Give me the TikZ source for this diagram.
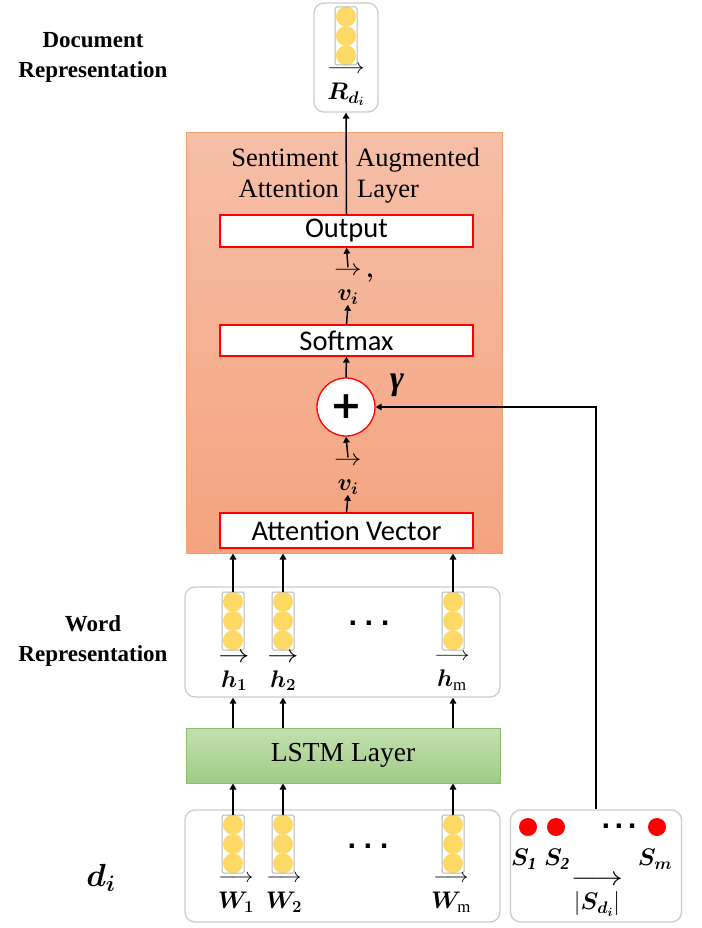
\RequirePackage{fix-cm}
\documentclass[tikz,border=0pt]{standalone}
\usepackage{graphicx}
\usepackage{amsmath}
\usepackage{bm}
\usepackage{fontspec}
\setmainfont{Liberation Serif}
\newfontfamily\calibri{Carlito}
\newfontfamily\dejavu{DejaVu Sans}
\usetikzlibrary{arrows.meta}
\definecolor{redb}{RGB}{255,0,0}
\definecolor{yel}{RGB}{255,217,102}
\definecolor{grayb}{RGB}{205,205,205}
\definecolor{orT}{RGB}{246,191,168}
\definecolor{orB}{RGB}{244,163,126}
\definecolor{orD}{RGB}{244,160,110}
\definecolor{grT}{RGB}{194,224,175}
\definecolor{grB}{RGB}{160,204,134}
\definecolor{grD}{RGB}{140,190,110}
\tikzset{
 arr/.style={line width=1.5pt,-{Triangle[length=6pt,width=6.5pt]}},
 rbox/.style={draw=redb,line width=1.3pt,fill=white,minimum width=253pt,inner sep=0pt,font=\calibri\fontsize{28.5}{30}\selectfont},
 gbox/.style={draw=grayb,line width=1.3pt,rounded corners=10pt,fill=white,inner sep=0pt},
 vecbox/.style={draw=grayb!90!black,line width=1pt,minimum width=22pt,inner sep=0pt,rounded corners=1.5pt},
 lab/.style={font=\fontsize{24}{24}\selectfont,inner sep=0pt,align=center},
 sidelab/.style={font=\bfseries\fontsize{23}{30}\selectfont,inner sep=0pt,align=center},
 ttl/.style={font=\fontsize{26.5}{28}\selectfont,inner sep=0pt},
 dotsty/.style={font=\dejavu\bfseries\fontsize{24}{24}\selectfont,inner sep=0pt},
}
\newcommand\vstack[4]{%
  \foreach \k in {-1,0,1} \fill[yel] (#2,#3+\k*#4/3) circle (10pt);
  \node[vecbox,minimum height=#4pt] (#1) at (#2,#3) {};
}
% arrows: font size, horizontal stretch
\newcommand\sarr[2]{\scalebox{#2}[1]{\fontsize{#1}{#1}\selectfont$\rightarrow$}}
\newcommand\larr[2]{\scalebox{#2}[1]{\fontsize{#1}{#1}\selectfont$\longrightarrow$}}
\begin{document}
\begin{tikzpicture}[x=1pt,y=-1pt]
\useasboundingbox (0,0) rectangle (701,928);
% left labels
\node[sidelab] (doclab) at (93,57) {Document\\Representation};
\node[sidelab] (wordlab) at (93,641) {Word\\Representation};
\node[font=\fontsize{32}{34}\selectfont,inner sep=0pt] (dlab) at (101,878) {$\bm{d}_{\bm{i}}$};
% orange layer
\node[draw=orD,line width=1pt,top color=orT,bottom color=orB,minimum width=316pt,minimum height=420pt,inner sep=0pt] (sal) at (344,343) {};
\node[ttl,anchor=base east] (t1) at (339,167) {Sentiment};
\node[ttl,anchor=base west] (t2) at (356,167) {Augmented};
\node[ttl,anchor=base east] (t3) at (339,197) {Attention};
\node[ttl,anchor=base west] (t4) at (357,197) {Layer};
\node[rbox,minimum height=32pt] (out) at (346.5,231) {Output};
\node[rbox,minimum height=31pt] (soft) at (346.5,340.5) {Softmax};
\node[rbox,minimum height=35pt] (att) at (346.5,530.5) {Attention Vector};
\node[circle,draw=redb,line width=1.3pt,fill=white,minimum size=58pt,inner sep=0pt,font=\dejavu\bfseries\fontsize{38}{38}\selectfont] (plus) at (346,407) {+};
\node[inner sep=0pt,font=\bfseries\itshape\fontsize{34}{34}\selectfont] (gam) at (397,385) {γ};
\node[lab] (vp) at (348,286) {\sarr{23}{1.2}\\[1pt]$\bm{v}_{\bm{i}}$};
\node[lab] (comma) at (370,278) {$\bm{,}$};
\node[lab] (vi) at (348,476) {\sarr{23}{1.2}\\[1pt]$\bm{v}_{\bm{i}}$};
% document representation
\node[gbox,minimum width=64pt,minimum height=109pt] (doc) at (346,57.5) {};
\vstack{rv}{346}{36}{58}
\node[lab] (rl) at (346,86) {\larr{21}{1.1}\\[2pt]$\bm{R}_{\bm{d}_{\bm{i}}}$};
% word representation
\node[gbox,minimum width=315pt,minimum height=110pt] (wbox) at (342.5,642) {};
\vstack{wv1}{233}{621}{58}
\vstack{wv2}{283}{621}{58}
\vstack{wvm}{453}{621}{58}
\node[lab] (h1) at (234,672) {\sarr{25}{1.25}\\[1pt]$\bm{h}_{\bm{1}}$};
\node[lab] (h2) at (283,672) {\sarr{25}{1.25}\\[1pt]$\bm{h}_{\bm{2}}$};
\node[lab] (hm) at (452,672) {\larr{19}{1.15}\\[2pt]$\bm{h}_{\mathrm{m}}$};
\node[dotsty] (wdots) at (369,623) {.\hspace{7pt}.\hspace{7pt}.};
% LSTM
\node[draw=grD,line width=1pt,top color=grT,bottom color=grB,minimum width=314pt,minimum height=55pt,inner sep=0pt,font=\fontsize{27.5}{30}\selectfont] (lstm) at (343,755.5) {LSTM Layer};
% input
\node[gbox,minimum width=315pt,minimum height=112pt] (ibox) at (342.5,866) {};
\vstack{iv1}{233}{844}{58}
\vstack{iv2}{283}{844}{58}
\vstack{ivm}{453}{844}{58}
\node[lab] (w1) at (236,894) {\larr{20}{1.1}\\[2pt]$\bm{W}_{\bm{1}}$};
\node[lab] (w2) at (284,894) {\larr{20}{1.1}\\[2pt]$\bm{W}_{\bm{2}}$};
\node[lab] (wm) at (451,894) {\larr{20}{1.1}\\[2pt]$\bm{W}_{\mathrm{m}}$};
\node[dotsty] (idots) at (368,846) {.\hspace{7pt}.\hspace{7pt}.};
% sentiment scores
\node[gbox,minimum width=171pt,minimum height=112pt] (sbox) at (596,866) {};
\fill[redb] (528,827) circle (9pt);
\fill[redb] (556,827) circle (9pt);
\fill[redb] (657,827) circle (9pt);
\node[dotsty] (sdots) at (619,826) {.\hspace{4pt}.\hspace{4pt}.};
\node[lab] (s1) at (524,859) {$\bm{S}_{\bm{\mathit{1}}}$};
\node[lab] (s2) at (557,859) {$\bm{S}_{\bm{\mathit{2}}}$};
\node[lab] (sm) at (655,859) {$\bm{S}_{\bm{m}}$};
\node[lab] (sd) at (597,896) {\larr{27}{1.2}\\[0pt]$|\bm{S}_{\bm{d}_{\bm{i}}}|$};
% connectors
\draw[arr] (out.north) -- (doc.south);
\draw[arr] (soft.north) -- (vp.south);
\draw[arr] (vp.north) -- (out.south);
\draw[arr] (plus.north) -- (soft.south);
\draw[arr] (att.north) -- (vi.south);
\draw[arr] (vi.north) -- (plus.south);
\draw[arr] (sbox.north) |- (plus.east);
\foreach \v in {1,2,m}{
  \draw[arr] (wv\v.north) -- (wv\v.north |- sal.south);
  \draw[arr] (wv\v.north |- lstm.north) -- (wv\v.north |- wbox.south);
  \draw[arr] (iv\v.north) -- (iv\v.north |- lstm.south);
}
\end{tikzpicture}
\end{document}
